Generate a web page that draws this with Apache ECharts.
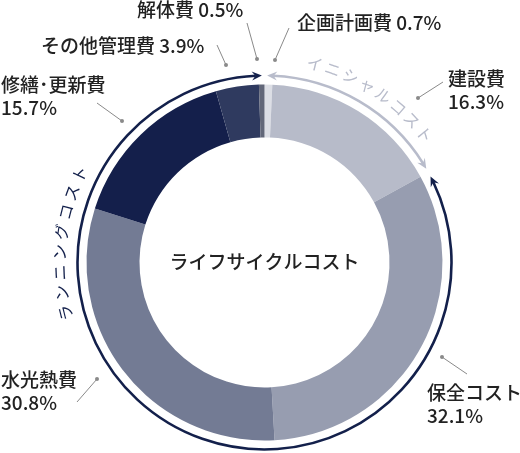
<!DOCTYPE html>
<html>
<head>
<meta charset="utf-8">
<script src="https://cdn.jsdelivr.net/npm/echarts@6/dist/echarts.min.js"></script>
<style>
html,body{margin:0;padding:0;background:#fff;}
#chart{width:520px;height:453px;}
</style>
</head>
<body>
<div id="chart"></div>
<script>
// ---- data ----
const categories = ['企画計画費', '建設費', '保全コスト', '水光熱費', '修繕･更新費', 'その他管理費', '解体費'];
const shares = [0.7, 16.3, 32.1, 30.8, 15.7, 3.9, 0.5];
const centerTitle = 'ライフサイクルコスト';
const arcTitles = ['イニシャルコスト', 'ランニングコスト'];
// arc groups: which slices each arrow spans (start index, end index inclusive)
const arcGroups = [[0, 1], [2, 6]];

// ---- styles / layout ----
const colors = ['#dcdee5', '#b7bbc9', '#979db0', '#737b94', '#141f4b', '#2f3a5f', '#626779'];
const arcColors = ['#b8bccb', '#13204b'];
const CX = 264.5, CY = 262.5, R_IN = 125, R_OUT = 178, R_ARROW = 187, R_TEXT = 205;
const FONT = '"Noto Sans CJK JP", "Noto Sans", sans-serif';
// label placement: left x, vertical centre, two-line?, dot, outer end of leader line
const labelLayoutCfg = [
  {x: 297, y: 22.5, two: false, dot: [275, 60], end: [289, 28]},
  {x: 448, y: 90.5, two: true, dot: [418, 98], end: [443, 82]},
  {x: 427, y: 404, two: true, dot: [442, 357], end: [467, 374]},
  {x: 1, y: 391, two: true, dot: [97, 379], end: [77, 402]},
  {x: 1, y: 96.5, two: true, dot: [122, 121], end: [97, 103]},
  {x: 41, y: 45.5, two: false, dot: [226, 65], end: [217, 45]},
  {x: 137, y: 10, two: false, dot: [257, 59], end: [247, 23]}
];
// arc text angular placement (deg from top, clockwise): first char, step
const arcTextCfg = [{start: 14.2, step: 5.3}, {start: 255.8, step: 5.69}];

const total = shares.reduce((a, b) => a + b, 0);
function cum(i) { let s = 0; for (let k = 0; k < i; k++) s += shares[k]; return s / total * 360; }
function P(phi, r) { const a = (phi - 90) * Math.PI / 180; return [CX + r * Math.cos(a), CY + r * Math.sin(a)]; }

const graphics = [];
// centre title
graphics.push({type: 'text', x: CX, y: 262, style: {text: centerTitle, font: '500 19px ' + FONT, fill: '#222', align: 'center', verticalAlign: 'middle'}, silent: true});
// dots at leader-line starts
labelLayoutCfg.forEach(c => graphics.push({type: 'circle', shape: {cx: c.dot[0], cy: c.dot[1], r: 2}, style: {fill: '#8a8a8a'}, silent: true}));

// arrows spanning the slice groups
const GAP = 0.8; // degrees of gap at ends
function arrowHead(phiTip, dir, color) {
  const L = 10, W = 4.5, N = 3.5;
  const k = 180 / Math.PI / R_ARROW;
  const pb = phiTip - dir * L * k, pn = phiTip - dir * (L - N) * k;
  return {type: 'polygon', shape: {points: [P(phiTip, R_ARROW), P(pb, R_ARROW + W), P(pn, R_ARROW), P(pb, R_ARROW - W)]}, style: {fill: color}, silent: true};
}
arcGroups.forEach((g, gi) => {
  let a0 = cum(g[0]), a1 = cum(g[1] + 1);
  const tip0 = a0 + (gi === 0 ? GAP : 1.4);
  const tip1 = a1 - (gi === 0 ? 1.3 : GAP);
  const k = 180 / Math.PI / R_ARROW;
  const s = tip0 + 6 * k, e = tip1 - 6 * k;
  graphics.push({type: 'arc', shape: {cx: CX, cy: CY, r: R_ARROW, startAngle: (s - 90) * Math.PI / 180, endAngle: (e - 90) * Math.PI / 180, clockwise: true},
    style: {stroke: arcColors[gi], lineWidth: 2.6, fill: null}, silent: true});
  graphics.push(arrowHead(tip0, -1, arcColors[gi]));
  graphics.push(arrowHead(tip1, 1, arcColors[gi]));
  // curved text
  const chars = Array.from(arcTitles[gi]);
  chars.forEach((ch, i) => {
    const phi = arcTextCfg[gi].start + i * arcTextCfg[gi].step;
    const p = P(phi, R_TEXT);
    graphics.push({type: 'text', x: p[0], y: p[1], rotation: -phi * Math.PI / 180,
      style: {text: ch, font: '16px ' + FONT, fill: arcColors[gi], align: 'center', verticalAlign: 'middle'}, silent: true});
  });
});

const chart = echarts.init(document.getElementById('chart'), null, {renderer: 'canvas'});
chart.setOption({
  animation: false,
  backgroundColor: '#fff',
  graphic: graphics,
  series: [{
    type: 'pie',
    center: [CX, CY],
    radius: [R_IN, R_OUT],
    startAngle: 90,
    clockwise: true,
    avoidLabelOverlap: false,
    silent: true,
    itemStyle: {borderWidth: 0},
    data: categories.map((n, i) => ({name: n, value: shares[i], itemStyle: {color: colors[i]}})),
    label: {
      show: true,
      position: 'outside',
      fontFamily: FONT,
      fontSize: 19,
      fontWeight: 500,
      color: '#222',
      lineHeight: 23,
      formatter: p => labelLayoutCfg[p.dataIndex].two ? p.name + '\n' + p.value + '%' : p.name + ' ' + p.value + '%'
    },
    labelLine: {show: true, lineStyle: {color: '#8a8a8a', width: 1}},
    labelLayout: function (params) {
      const c = labelLayoutCfg[params.dataIndex];
      return {x: c.x, y: c.y, align: 'left', verticalAlign: 'middle', labelLinePoints: [c.dot, c.end, c.end]};
    }
  }]
});
</script>
</body>
</html>
